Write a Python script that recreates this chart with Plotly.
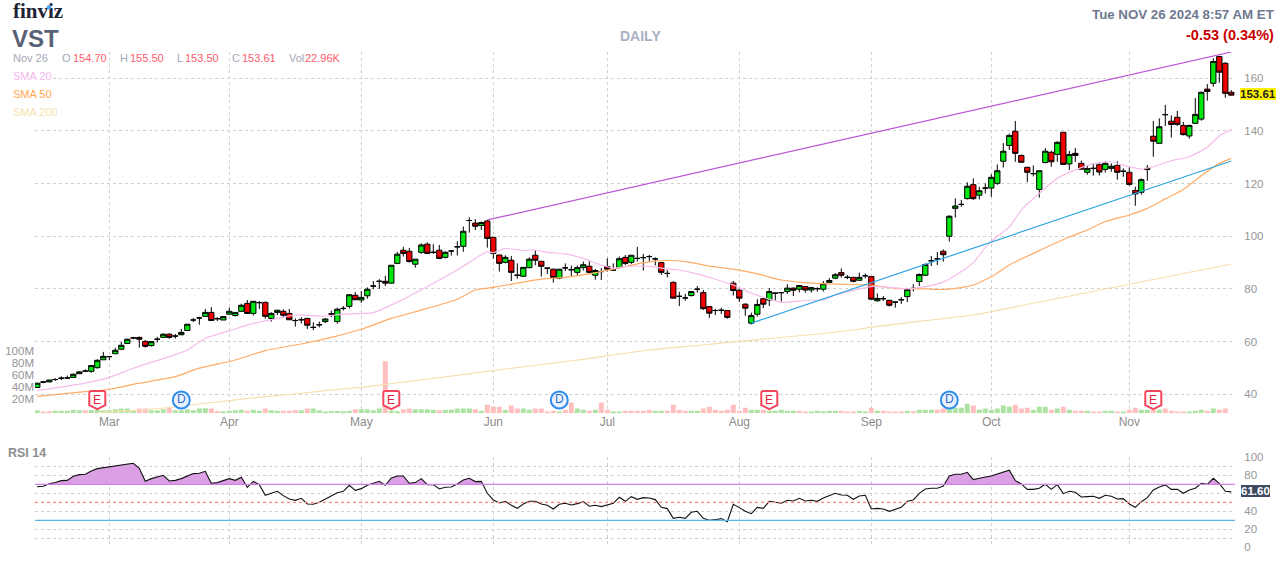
import plotly.graph_objects as go

W, H = 1287, 562

opens = [42.6,44.7,44.7,45.6,46.1,46.2,46.4,47.8,48.8,48.7,50.1,53.1,54.3,55.4,57.1,59.3,61.4,61.6,60.1,58.5,
60.9,61.6,62.8,62.1,62.6,64.2,68.2,69.0,69.6,71.1,68.7,68.2,70.4,69.9,71.5,74.5,70.7,74.8,74.9,68.8,
71.1,71.5,70.7,68.0,68.3,68.8,65.4,66.4,67.6,70.5,67.6,72.6,73.4,77.6,75.8,77.4,81.1,82.9,82.9,82.2,
89.7,94.7,94.3,89.4,93.9,97.0,93.9,94.7,92.0,94.4,96.0,96.2,106.0,105.0,104.1,105.8,99.6,92.9,90.1,90.9,
85.2,84.8,88.1,92.8,90.5,87.9,87.5,84.1,88.0,87.3,86.3,88.1,88.6,85.2,86.6,88.5,87.2,88.2,92.0,90.1,
91.6,91.9,92.3,91.4,90.0,85.9,82.5,77.2,76.6,77.5,79.9,78.6,73.3,71.8,71.9,71.8,82.2,79.5,74.2,67.0,
70.4,76.3,75.8,78.4,78.6,79.0,80.3,79.9,80.9,79.6,80.1,79.9,82.5,84.1,86.2,84.4,84.4,83.3,85.0,84.7,
75.5,76.3,75.7,75.0,75.9,77.1,80.2,82.8,85.2,90.7,91.4,94.3,100.0,110.6,112.1,114.3,119.6,115.6,118.3,118.3,
120.1,128.5,134.5,139.9,130.7,126.2,123.8,117.8,128.0,131.9,131.1,139.5,127.5,131.5,127.7,124.3,125.8,127.2,125.4,125.8,
126.9,124.7,124.3,117.4,116.7,125.8,138.0,135.3,146.2,143.7,145.2,142.1,138.1,142.9,144.5,155.9,158.1,168.3,165.7,154.70]

highs = [44.3,45.0,45.5,46.1,46.8,47.1,47.9,48.7,49.5,51.1,53.3,56.1,54.4,57.7,59.9,61.1,61.8,61.9,60.6,60.2,
61.8,63.2,63.2,62.9,64.8,66.7,69.0,69.4,72.4,73.1,69.3,69.7,72.9,71.1,74.4,75.8,75.4,75.4,75.2,71.2,
72.1,72.3,72.4,68.8,69.3,69.1,67.3,67.6,68.8,71.8,72.9,73.5,78.0,78.8,79.2,80.6,83.0,83.7,85.0,89.0,
94.1,96.0,95.6,91.3,97.3,97.7,97.0,96.7,94.4,94.8,98.1,103.7,107.2,106.5,105.6,106.2,99.6,92.9,92.8,92.5,
89.7,88.2,92.0,94.6,90.6,87.9,87.7,87.6,89.7,88.9,88.9,90.4,90.5,87.6,87.9,91.6,89.7,92.3,92.9,92.9,
96.0,93.3,92.9,92.0,90.3,87.2,82.9,78.9,78.1,79.2,81.1,79.6,73.5,72.5,72.9,72.0,83.0,80.1,74.6,71.0,
76.1,76.5,80.3,78.6,78.6,81.8,80.6,81.5,81.1,80.8,80.6,83.0,84.1,86.0,87.8,85.3,84.6,86.2,85.9,84.7,
78.3,77.3,75.8,75.0,76.9,80.4,81.8,85.9,89.7,92.5,94.0,95.0,108.0,114.4,113.8,120.5,122.0,118.8,120.1,123.6,
127.3,135.4,139.0,143.8,131.1,126.4,126.9,124.9,133.5,132.5,136.1,139.6,132.4,133.5,128.7,127.1,127.7,128.0,128.5,127.7,
128.5,125.8,126.2,118.8,122.0,127.1,143.8,144.8,149.9,145.9,147.6,143.4,142.4,152.5,154.9,157.8,167.6,168.5,166.1,155.50]

lows = [42.5,44.2,44.6,45.1,45.4,46.0,46.2,47.7,48.5,48.2,49.7,53.0,53.0,55.4,56.8,59.2,60.9,57.7,57.7,58.1,
59.7,61.4,61.1,61.1,62.4,64.0,67.4,66.4,69.5,68.0,67.8,68.2,70.1,69.5,71.4,70.5,69.9,72.4,68.7,67.6,
70.1,69.1,68.3,65.7,66.9,64.8,64.3,65.4,67.0,69.3,66.8,71.8,72.6,75.8,74.7,76.3,79.9,80.0,81.1,82.0,
89.6,92.3,90.0,88.1,93.3,93.2,93.3,91.3,91.6,92.7,92.7,94.1,101.4,102.4,102.4,95.7,91.5,86.6,89.7,83.0,
83.9,84.7,87.8,89.0,84.7,85.7,82.4,83.7,86.8,84.7,84.9,87.0,85.7,83.5,83.4,86.6,87.0,87.8,89.1,89.5,
90.4,87.0,90.4,88.9,85.3,84.4,76.3,73.5,75.5,77.1,78.6,72.0,69.0,70.1,70.5,68.7,77.5,75.1,69.8,66.5,
69.5,72.7,73.5,75.6,75.2,78.1,77.3,78.7,78.6,78.6,79.0,79.0,82.4,83.7,84.3,83.7,82.5,83.0,84.0,76.0,
75.2,75.5,73.3,72.9,74.3,75.0,79.0,81.1,84.9,88.7,89.1,90.4,98.0,107.1,111.2,114.0,113.8,114.0,116.3,115.0,
119.5,126.1,132.8,128.3,128.0,120.6,122.7,114.7,127.7,126.4,128.3,127.2,125.2,128.3,125.2,123.4,123.0,123.1,124.2,124.5,
121.5,122.6,119.2,111.6,115.8,121.1,130.2,135.3,141.9,137.5,141.9,138.3,137.1,142.8,143.9,151.5,156.8,158.3,152.6,153.50]

closes = [44.2,44.6,45.4,45.6,46.1,46.2,47.6,48.5,48.8,50.9,52.9,54.4,54.3,56.7,58.6,60.9,61.4,60.9,58.2,60.0,
60.9,62.8,61.6,62.1,63.5,66.6,68.2,69.0,71.1,68.0,68.7,69.5,71.5,71.1,73.8,70.7,75.3,74.8,69.6,70.7,
71.9,70.0,68.3,68.0,68.3,66.2,65.4,66.4,68.6,70.5,72.3,72.6,77.8,75.9,76.8,79.9,81.1,82.9,82.2,89.0,
93.2,93.5,90.4,91.3,96.7,93.5,93.9,91.6,93.9,94.4,96.0,101.9,106.0,103.8,105.2,99.2,93.5,89.7,92.0,86.3,
85.2,88.2,91.3,90.9,88.6,87.9,84.3,87.5,88.0,87.3,88.1,89.2,86.3,87.0,86.6,87.5,87.2,91.5,89.7,92.8,
91.6,91.9,92.3,91.4,86.3,85.9,76.5,77.2,76.6,79.0,79.9,72.5,70.8,71.8,71.9,69.2,79.4,76.5,72.7,69.9,
74.1,74.2,79.0,78.4,78.6,80.3,79.5,81.3,79.6,80.5,80.1,82.0,83.2,85.4,85.2,84.4,82.9,84.4,85.0,76.1,
76.4,76.3,73.8,75.0,75.9,79.8,80.2,85.5,89.3,90.7,91.4,93.0,107.6,111.5,112.1,119.0,114.3,117.3,118.3,122.4,
124.9,132.3,138.3,131.5,128.1,124.3,123.8,124.9,132.3,128.3,135.7,127.3,131.1,130.7,125.5,125.7,125.8,124.4,127.7,126.6,
124.3,124.7,119.7,116.1,121.5,125.4,136.1,141.6,146.2,142.5,142.5,138.6,142.1,146.3,154.7,155.0,166.4,162.3,154.3,153.61]

volume_m = [5,2.8,3.3,4.4,4.4,4.4,6.1,5,5,5.6,6.1,5,5.6,6.7,7.8,7.8,5,7.8,7.8,5,
5,6.7,8.9,5,5,6.7,5,7.8,8.3,7.8,3.9,2.8,4.4,5,6.1,4.4,6.1,4.4,7.8,5,
4.4,4.4,4.4,5.6,5,7.8,7.8,5,2.8,3.9,3.9,3.3,4.4,6.7,6.7,6.7,5,7.8,86.7,4.4,
3.3,6.7,7.8,6.7,6.7,6.7,6.1,5,6.1,6.1,7.8,7.8,7.8,6.7,4.4,14.4,11.1,11.1,6.1,12.8,
7.8,7.8,6.1,7.8,7.8,2.8,4.4,2.8,6.1,17.8,7.8,6.1,4.4,6.1,17.8,6.1,2.8,2.8,4.4,4.4,
4.4,4.4,6.1,4.4,4.4,4.4,14.4,6.1,4.4,4.4,4.4,7.8,11.1,6.1,4.4,6.1,14.4,4.4,9.4,6.1,
6.1,6.1,4.4,4.4,6.1,4.4,4.4,4.4,2.8,2.8,4.4,2.8,4.4,4.4,4.4,2.8,2.8,4.4,2.8,9.4,
4.4,4.4,2.8,2.8,2.8,4.4,3.3,6.1,6.1,6.1,6.1,7.8,7.8,9.4,9.4,16.1,12.8,6.1,7.8,6.1,
7.8,12.8,11.1,14.4,7.8,9.4,6.1,11.1,11.1,6.1,7.8,11.1,6.1,4.4,4.4,4.4,2.8,2.8,4.4,4.4,
2.8,2.8,6.1,9.4,6.1,6.1,6.1,6.1,7.8,4.4,2.8,2.8,2.8,4.4,6.1,4.4,7.8,6.1,7.8,0.02]

down_volume_days = [1,2,8,17,18,22,29,30,35,38,41,42,43,45,53,58,61,62,67,73,75,76,77,79,80,83,84,85,86,88,89,92,
94,95,98,99,100,101,102,105,106,107,108,111,112,113,114,115,116,117,118,121,127,128,134,135,136,139,141,142,143,
144,146,150,151,156,163,164,165,169,171,173,174,176,177,180,182,183,186,188,189,190,191,195,197,198,199]

rsi_14 = [67.4,67.8,70.7,71.9,74.1,74.4,78.9,80.7,81.1,84.8,87.4,88.5,88.9,90.7,91.9,93.0,93.3,87.8,73.3,76.3,
77.8,80.0,73.7,74.4,76.3,79.3,81.9,82.2,84.4,71.1,71.9,74.1,76.3,74.4,77.8,66.7,73.3,69.6,57.8,60.0,
62.2,57.4,53.7,52.2,54.4,48.1,47.8,50.0,53.7,57.8,60.7,62.2,68.9,63.3,65.2,68.9,71.1,73.3,68.9,77.0,
79.3,79.3,71.1,71.9,76.3,69.6,69.6,64.8,66.7,67.0,70.4,74.8,76.7,73.0,73.3,60.0,52.6,49.3,51.1,46.7,
43.3,48.1,51.1,51.1,48.1,46.7,42.6,47.8,48.9,47.0,48.5,50.7,45.6,46.7,45.2,47.4,48.9,55.6,51.1,56.3,
53.3,55.2,54.8,53.0,44.4,43.0,32.2,33.3,32.2,38.9,40.0,32.2,30.0,30.7,31.9,28.5,47.8,44.1,40.0,37.4,
44.4,43.3,51.1,50.0,48.9,52.2,51.5,54.4,51.5,52.2,51.1,54.8,57.0,60.0,58.1,57.8,53.3,57.0,57.8,42.6,
43.3,42.6,40.0,42.2,44.4,51.1,52.6,60.0,64.8,65.6,65.6,68.1,79.3,81.1,81.1,83.3,75.2,76.7,77.8,79.3,
81.5,83.7,85.6,74.1,70.4,64.4,64.4,65.6,70.0,64.4,69.6,59.6,62.2,61.1,55.9,56.3,56.7,54.4,57.8,56.7,
53.7,54.1,48.1,44.4,50.7,55.2,63.7,67.0,69.3,64.4,64.4,60.0,63.7,65.6,71.1,70.0,76.7,71.1,62.2,61.6]

sma20_days = [0,5,8,12,16,22,25,28,32,36,40,43,48,51,56,61,67,70,73,75,76,78,81,83,85,88,91,94,96,98,102,104,107,110,113,116,119,122,124,126,129,131,133,136,139,142,145,148,151,154,156,158,160,162,164,167,170,173,176,179,181,184,186,189,192,195,197,199]
sma20 = [41.4,43.1,44.2,46.4,49.9,54.3,56.8,61.2,64.1,66.9,68.8,70.1,69.7,70.4,71.0,76.1,83.4,87.2,91.6,94.2,93.8,95.4,94.6,94.8,93.9,93.3,91.6,89.1,87.9,88.5,88.6,87.9,87.2,85.7,83.7,81.5,78.4,76.1,74.9,75.2,75.7,75.8,77.7,79.4,80.9,80.6,80.1,80.9,82.6,86.6,90.0,95.7,100.0,103.5,110.0,116.3,122.0,125.2,127.5,128.3,127.0,125.5,126.4,128.7,130.2,133.8,138.1,140.6]

sma50_days = [0,8,12,17,23,27,33,38,44,49,54,59,65,70,73,76,80,84,88,92,96,100,103,105,108,112,116,120,124,128,132,137,139,143,148,151,154,156,158,160,162,172,175,178,182,185,188,191,194,197,199]
sma50 = [39.2,41.0,41.9,44.2,46.7,49.9,53.0,56.6,59.1,61.6,64.7,68.8,72.6,76.1,79.6,80.6,82.2,83.7,84.4,85.7,87.5,89.5,90.6,90.8,90.4,88.7,87.5,85.7,83.4,82.4,81.9,81.6,81.5,80.2,80.0,79.8,80.5,81.5,83.5,86.0,89.1,99.7,102.4,105.6,108.1,110.6,114.2,117.8,123.0,127.7,129.6]

sma200_days = [10,16,22,27,32,38,44,49,54,60,65,77,90,102,110,117,127,137,139,150,156,170,182,199]
sma200 = [33.1,33.8,35.0,36.3,37.6,39.1,40.4,41.6,42.6,44.4,45.7,49.3,53.0,56.8,58.5,60.1,62.2,64.7,65.5,68.5,70.1,76.4,81.8,89.5]

upper_trend_days = [75, 199]
upper_trend = [106.2, 170.0]
lower_trend_days = [119, 199]
lower_trend = [67.0, 128.6]

month_days = [12, 32, 54, 76, 95, 117, 139, 159, 182]
month_labels = ["Mar", "Apr", "May", "Jun", "Jul", "Aug", "Sep", "Oct", "Nov"]
price_ticks = [40, 60, 80, 100, 120, 140, 160]
volume_ticks = [20, 40, 60, 80, 100]
volume_tick_labels = ["20M", "40M", "60M", "80M", "100M"]
rsi_grid = [0, 10, 20, 30, 40, 50, 60, 70, 80, 90, 100]
rsi_grid_labels = ["0", "", "20", "", "40", "", "", "", "80", "", "100"]
earnings_days = [10, 59, 122, 186]
dividend_days = [24, 87, 152]
marker_price = 37.8

days = list(range(len(closes)))
XR = [-0.383, 199.617]
GRID = "#cfcfcf"
TICK = "#969696"
DASH = "3px,3px"
GREEN_V, RED_V = "#ace2a2", "#ffbfbf"

fig = go.Figure()

vol_colors = [RED_V if d in down_volume_days else GREEN_V for d in days]
fig.add_trace(go.Bar(x=days, y=volume_m, base=-3.33, marker=dict(color=vol_colors, line_width=0),
                     width=0.83, xaxis="x", yaxis="y"))

def line(x, y, color, width=1.1, shape="linear"):
    fig.add_trace(go.Scatter(x=x, y=y, mode="lines",
                             line=dict(color=color, width=width, shape=shape, smoothing=0.6 if shape == "spline" else None),
                             xaxis="x", yaxis="y2"))

line(sma200_days, sma200, "#f5dfad", 1.1, "spline")
line(sma50_days, sma50, "#ffab66", 1.2, "spline")
line(sma20_days, sma20, "#f5bdea", 1.2, "spline")
line(upper_trend_days, upper_trend, "#bb55d6", 1.2)
line(lower_trend_days, lower_trend, "#2fa5e3", 1.2)

fig.add_trace(go.Candlestick(x=days, open=opens, high=highs, low=lows, close=closes,
                             increasing=dict(line=dict(color="#000000", width=1), fillcolor="#00e60f"),
                             decreasing=dict(line=dict(color="#000000", width=1), fillcolor="#f00000"),
                             whiskerwidth=0, xaxis="x", yaxis="y2"))

fig.add_trace(go.Scatter(x=dividend_days, y=[marker_price] * len(dividend_days), mode="markers+text",
                         text=["D"] * len(dividend_days), textposition="middle center",
                         textfont=dict(family="Liberation Sans", size=12, color="#2f6fd6"),
                         marker=dict(symbol="circle", size=17, color="#e9f1fb",
                                     line=dict(color="#2b8cee", width=2)),
                         xaxis="x", yaxis="y2"))

shapes = []
for d in earnings_days:
    shapes.append(dict(type="path", xref="x", yref="y2", xsizemode="pixel", ysizemode="pixel",
                       xanchor=d, yanchor=marker_price, layer="above",
                       path="M -6 9 L 6 9 Q 8 9 8 7 L 8 -5 L 0 -9 L -8 -5 L -8 7 Q -8 9 -6 9 Z",
                       fillcolor="#ffffff", line=dict(color="#f4465a", width=2)))

# RSI panel
rsi_x, rsi_up = [], []
for i, v in enumerate(rsi_14):
    if i:
        p = rsi_14[i - 1]
        if (p - 70) * (v - 70) < 0:
            rsi_x.append(i - 1 + (70 - p) / (v - p))
            rsi_up.append(70)
    rsi_x.append(i)
    rsi_up.append(max(v, 70))
fig.add_trace(go.Scatter(x=rsi_x, y=[70] * len(rsi_x), mode="lines", line=dict(width=0),
                         xaxis="x2", yaxis="y3"))
fig.add_trace(go.Scatter(x=rsi_x, y=rsi_up, mode="lines", line=dict(width=0), fill="tonexty",
                         fillcolor="#dba0e4", xaxis="x2", yaxis="y3"))
for level, color, dash in [(70, "#d47fe6", "solid"), (50, "#ff8585", "3px,3px"), (30, "#5cb8e8", "solid")]:
    shapes.append(dict(type="line", xref="x2", yref="y3", x0=XR[0], x1=XR[1], y0=level, y1=level,
                       line=dict(color=color, width=1.2, dash=dash), layer="above"))
fig.add_trace(go.Scatter(x=days, y=rsi_14, mode="lines", line=dict(color="#111111", width=1.1),
                         xaxis="x2", yaxis="y3"))

# logo on its own full-page subplot, so that the blue dot sits above the letter
fig.add_trace(go.Scatter(x=[13], y=[13], mode="text", text=["<b>finviz</b>"], textposition="middle right",
                         textfont=dict(family="Liberation Serif", size=21, color="#1e2433"),
                         cliponaxis=False, xaxis="x3", yaxis="y4"))
fig.add_trace(go.Scatter(x=[49], y=[7.2], mode="markers", marker=dict(size=4.5, color="#4da6f5"),
                         cliponaxis=False, xaxis="x3", yaxis="y4"))

def px(x): return x / W
def py(y): return 1 - y / H

annotations = []
def label(x, y, text, size, color, family="Liberation Sans", bold=False, anchor="left", bg=None):
    annotations.append(dict(
        x=px(x), y=py(y), xref="paper", yref="paper", text=f"<b>{text}</b>" if bold else text,
        showarrow=False, xanchor=anchor, yanchor="middle", borderpad=0, borderwidth=0,
        bgcolor=bg, font=dict(family=family, size=size, color=color)))

label(12, 38, "VST", 24, "#596176", bold=True)
label(640.5, 36, "DAILY", 14, "#aab0c4", bold=True, anchor="center")
label(1274, 14, "Tue NOV 26 2024 8:57 AM ET", 13.3, "#6f7890", bold=True, anchor="right")
label(1274, 35, "-0.53 (0.34%)", 14.5, "#c80000", bold=True, anchor="right")
GRAYT, REDT = "#a4a9b9", "#ff5b6b"
for x, text, color in [(13, "Nov 26", GRAYT), (62, "O", GRAYT), (73, "154.70", REDT), (120, "H", GRAYT),
                       (130, "155.50", REDT), (177, "L", GRAYT), (185, "153.50", REDT), (232, "C", GRAYT),
                       (241.5, "153.61", REDT), (289, "Vol", GRAYT), (305, "22.96K", REDT)]:
    label(x, 58, text, 11, color, bg="#ffffff")
label(13, 76, "SMA 20", 11, "#f5b8ec", bg="#ffffff")
label(13, 94, "SMA 50", 11, "#ffa552", bg="#ffffff")
label(13, 112, "SMA 200", 11, "#f5e2ab", bg="#ffffff")
label(8, 453, "RSI 14", 12.5, "#8c8c8c", bold=True)
label(1258, 94, "153.61", 11.5, "#222222", bold=True, anchor="center", bg="#fff200")
label(1255, 491, "61.60", 11.5, "#ffffff", bold=True, anchor="center", bg="#3f4a63")
for d, mark in zip(earnings_days, ["E"] * len(earnings_days)):
    annotations.append(dict(x=d, y=marker_price, xref="x", yref="y2", text=mark, showarrow=False, yshift=0,
                            font=dict(family="Liberation Sans", size=12, color="#e0243c")))

dom_x = [35 / W, 1235 / W]
common_x = dict(range=XR, domain=dom_x, showgrid=True, gridcolor=GRID, griddash=DASH, gridwidth=1,
                zeroline=False, showline=False, tickvals=month_days, automargin=False)
fig.update_layout(
    width=W, height=H, margin=dict(l=0, r=0, t=0, b=0), autosize=False,
    plot_bgcolor="rgba(0,0,0,0)", paper_bgcolor="#ffffff", showlegend=False, hovermode=False,
    font=dict(family="Liberation Sans", color=TICK),
    boxgap=0.12, boxgroupgap=0,
    shapes=shapes, annotations=annotations,
    xaxis=dict(common_x, anchor="y", ticktext=month_labels, ticks="", tickfont=dict(size=12, color="#8c8c8c"),
               rangeslider=dict(visible=False)),
    xaxis2=dict(common_x, anchor="y3", showticklabels=False),
    xaxis3=dict(domain=[0, 1], range=[0, W], anchor="y4", visible=False, automargin=False),
    yaxis=dict(domain=[py(413.3), py(52)], range=[-3.33, 598.8], anchor="x", side="left", showgrid=False,
               zeroline=False, tickvals=volume_ticks, ticktext=volume_tick_labels, ticks="",
               tickfont=dict(size=11.5, color=TICK), automargin=False),
    yaxis2=dict(domain=[py(413.3), py(52)], range=[32.77, 169.99], overlaying="y", anchor="x", side="right",
                showgrid=True, gridcolor=GRID, griddash=DASH, zeroline=False, tickvals=price_ticks,
                ticks="outside", ticklen=6, tickcolor="rgba(0,0,0,0)", tickfont=dict(size=11.5, color=TICK),
                automargin=False),
    yaxis3=dict(domain=[py(547.3), py(457.3)], range=[0, 100], anchor="x2", side="right",
                showgrid=True, gridcolor=GRID, griddash=DASH, zeroline=False, tickvals=rsi_grid,
                ticktext=rsi_grid_labels, ticks="outside", ticklen=6, tickcolor="rgba(0,0,0,0)",
                tickfont=dict(size=11.5, color=TICK), automargin=False),
    yaxis4=dict(domain=[0, 1], range=[H, 0], anchor="x3", visible=False, automargin=False),
)
fig.write_html("out.html", config={"displayModeBar": False},
               post_script="document.body.style.margin='0';document.documentElement.style.margin='0';")
